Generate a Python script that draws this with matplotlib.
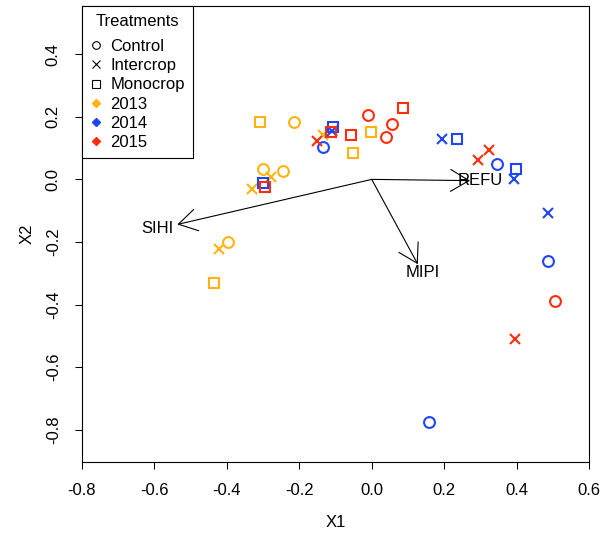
import numpy as np
import matplotlib
matplotlib.use("Agg")
from matplotlib import pyplot as plt
from matplotlib.lines import Line2D

plt.rcParams['font.family'] = ['Liberation Sans', 'DejaVu Sans']
plt.rcParams['font.size'] = 12

years = ['2013', '2014', '2015']
year_colors = ['#FFB30F', '#1F45FC', '#FF2D0A']
treatments = ['Control', 'Intercrop', 'Monocrop']
markers = ['o', 'x', 's']

# site scores, per year and treatment (4 plots each)
x_2013 = {'Control': [-0.213, -0.301, -0.246, -0.397],
          'Intercrop': [-0.133, -0.278, -0.331, -0.421],
          'Monocrop': [-0.308, -0.002, -0.052, -0.435]}
y_2013 = {'Control': [0.182, 0.033, 0.027, -0.199],
          'Intercrop': [0.141, 0.007, -0.031, -0.223],
          'Monocrop': [0.182, 0.150, 0.083, -0.330]}

x_2014 = {'Control': [-0.133, 0.345, 0.486, 0.159],
          'Intercrop': [-0.110, 0.195, 0.393, 0.487],
          'Monocrop': [-0.108, -0.299, 0.235, 0.398]}
y_2014 = {'Control': [0.102, 0.049, -0.260, -0.774],
          'Intercrop': [0.155, 0.129, 0.001, -0.109],
          'Monocrop': [0.168, -0.010, 0.128, 0.033]}

x_2015 = {'Control': [-0.011, 0.057, 0.040, 0.506],
          'Intercrop': [-0.150, 0.324, 0.292, 0.396],
          'Monocrop': [-0.112, -0.058, 0.087, -0.294]}
y_2015 = {'Control': [0.205, 0.176, 0.136, -0.388],
          'Intercrop': [0.123, 0.094, 0.062, -0.510],
          'Monocrop': [0.152, 0.142, 0.227, -0.024]}

# species loadings (arrows)
species = ['REFU', 'MIPI', 'SIHI']
load_x = [0.271, 0.127, -0.536]
load_y = [-0.004, -0.271, -0.144]

xticks = [-0.8, -0.6, -0.4, -0.2, 0.0, 0.2, 0.4, 0.6]
yticks = [-0.8, -0.6, -0.4, -0.2, 0.0, 0.2, 0.4]

xs = [x_2013, x_2014, x_2015]
ys = [y_2013, y_2014, y_2015]

fig = plt.figure(figsize=(6.03, 5.34), dpi=100)
ax = fig.add_axes([0.1353, 0.1354, 0.9773 - 0.1353, 0.9888 - 0.1354])

for xd, yd, col in zip(xs, ys, year_colors):
    for tr, mk in zip(treatments, markers):
        ax.plot(xd[tr], yd[tr], linestyle='none', marker=mk, ms=7.8,
                mfc='none', mec=col, mew=1.5)

for name, lx, ly in zip(species, load_x, load_y):
    ax.annotate('', xy=(lx, ly), xytext=(0, 0),
                arrowprops=dict(arrowstyle='->,head_length=1.32,head_width=0.79',
                                mutation_scale=10, lw=0.8, color='black',
                                shrinkA=0, shrinkB=0))
    ax.text(lx * 1.1, ly * 1.1, name, ha='center', va='center', fontsize=12)

ax.set_xlim(-0.8, 0.6)
ax.set_ylim(-0.902, 0.554)
ax.set_xticks(xticks)
ax.set_yticks(yticks)
ax.set_xticklabels(['%.1f' % v for v in xticks])
ax.set_yticklabels(['%.1f' % v for v in yticks], rotation=90, va='center')
ax.tick_params(direction='out', length=5, width=0.75, pad=10, labelsize=12)
for sp in ax.spines.values():
    sp.set_linewidth(0.8)

ax.set_xlabel('X1', fontsize=12)
ax.set_ylabel('X2', fontsize=12)
ax.xaxis.set_label_coords(0.5, -0.117)
ax.yaxis.set_label_coords(-0.092, 0.5)

handles = [Line2D([], [], linestyle='none', marker=mk, ms=5.5, mfc='none',
                  mec='black', mew=0.8) for mk in markers]
handles += [Line2D([], [], linestyle='none', marker='D', ms=4.5,
                   mfc=c, mec=c) for c in year_colors]
leg = ax.legend(handles, treatments + years, title='Treatments',
                loc='upper left', bbox_to_anchor=(0, 1), borderaxespad=0,
                fancybox=False, edgecolor='black', framealpha=1,
                handlelength=0.68, handletextpad=0.56, borderpad=0.5,
                labelspacing=0.25, fontsize=12, title_fontsize=12)
leg._legend_box.sep = 7
leg.get_frame().set_linewidth(0.8)

fig.savefig('out.png', dpi=100)
